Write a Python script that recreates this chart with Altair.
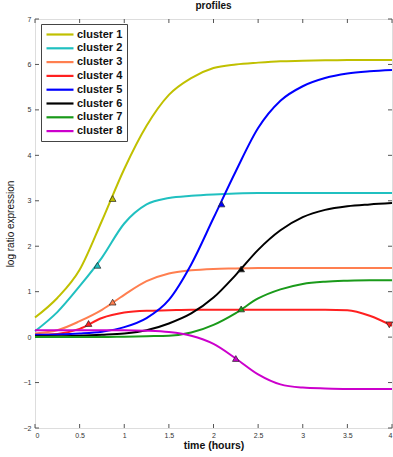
import altair as alt
import pandas as pd

times = [0, 0.25, 0.5, 0.75, 1.0, 1.25, 1.5, 1.75, 2.0, 2.25, 2.5, 2.75, 3.0, 3.25, 3.5, 3.75, 4.0]
names = ["cluster 1", "cluster 2", "cluster 3", "cluster 4",
         "cluster 5", "cluster 6", "cluster 7", "cluster 8"]
c1 = [0.43, 0.86, 1.48, 2.56, 3.7, 4.65, 5.33, 5.7, 5.92, 6.0, 6.04, 6.07, 6.08, 6.09, 6.1, 6.1, 6.1]
c2 = [0.13, 0.55, 1.12, 1.75, 2.5, 2.92, 3.06, 3.11, 3.14, 3.16, 3.17, 3.17, 3.17, 3.17, 3.17, 3.17, 3.17]
c3 = [0.08, 0.15, 0.35, 0.6, 0.93, 1.23, 1.4, 1.47, 1.5, 1.51, 1.52, 1.52, 1.52, 1.52, 1.52, 1.52, 1.52]
c4 = [0.05, 0.07, 0.18, 0.42, 0.54, 0.58, 0.59, 0.6, 0.6, 0.6, 0.6, 0.6, 0.6, 0.6, 0.59, 0.47, 0.25]
c5 = [0.05, 0.06, 0.08, 0.12, 0.22, 0.42, 0.82, 1.6, 2.62, 3.65, 4.6, 5.2, 5.52, 5.7, 5.8, 5.85, 5.88]
c6 = [0.02, 0.02, 0.03, 0.05, 0.08, 0.15, 0.3, 0.52, 0.87, 1.37, 1.92, 2.35, 2.64, 2.8, 2.88, 2.92, 2.95]
c7 = [0.0, 0.0, 0.0, 0.0, 0.01, 0.02, 0.03, 0.1, 0.27, 0.53, 0.85, 1.05, 1.17, 1.22, 1.24, 1.25, 1.25]
c8 = [0.15, 0.15, 0.15, 0.15, 0.15, 0.14, 0.11, 0.03, -0.15, -0.47, -0.82, -1.04, -1.11, -1.13, -1.14, -1.14, -1.14]
series = [c1, c2, c3, c4, c5, c6, c7, c8]
colors = ["#c0c000", "#20c0c0", "#ff7f50", "#ff2020", "#0000ff", "#000000", "#1a9a1a", "#cc00cc"]

marker_cluster = ["cluster 1", "cluster 2", "cluster 3", "cluster 4", "cluster 4",
                  "cluster 5", "cluster 6", "cluster 7", "cluster 8"]
marker_t = [0.87, 0.7, 0.87, 0.6, 3.97, 2.09, 2.31, 2.31, 2.25]
marker_v = [3.05, 1.58, 0.77, 0.3, 0.27, 2.93, 1.5, 0.62, -0.47]
marker_shape = ["triangle-up", "triangle-up", "triangle-up", "triangle-up", "triangle-down",
                "triangle-up", "triangle-up", "triangle-up", "triangle-up"]

xticks = [0, 0.5, 1, 1.5, 2, 2.5, 3, 3.5, 4]
yticks = [-2, -1, 0, 1, 2, 3, 4, 5, 6, 7]

W, H = 357, 409
FONT = "Liberation Sans"

rows = []
for name, vals in zip(names, series):
    for t, v in zip(times, vals):
        rows.append({"t": t, "v": v, "cluster": name})
df = pd.DataFrame(rows)

mk = pd.DataFrame({"t": marker_t, "v": marker_v, "cluster": marker_cluster, "shape": marker_shape})

xscale = alt.Scale(domain=[0, 4], nice=False, zero=False)
yscale = alt.Scale(domain=[-2, 7], nice=False, zero=False)
cscale = alt.Scale(domain=names, range=colors)

xaxis = alt.Axis(values=xticks, format="~g", title="time (hours)", grid=False, domain=False,
                 ticks=False, tickSize=0, labelFontSize=7, labelPadding=3, labelColor="#333",
                 labelFont=FONT, titleFont=FONT, titleFontSize=10.5, titleFontWeight="bold",
                 titleColor="#111", titleY=17, titleBaseline="middle")
yaxis = alt.Axis(values=yticks, format="~g", title="log ratio expression", grid=False, domain=False,
                 ticks=False, tickSize=0, labelFontSize=7, labelPadding=4, labelColor="#333",
                 labelFont=FONT, titleFont=FONT, titleFontSize=10, titleFontWeight="normal",
                 titleColor="#111", titleX=-25, titleBaseline="middle")

lines = alt.Chart(df).mark_line(strokeWidth=2, interpolate="monotone").encode(
    x=alt.X("t:Q", scale=xscale, axis=xaxis),
    y=alt.Y("v:Q", scale=yscale, axis=yaxis),
    color=alt.Color("cluster:N", scale=cscale, sort=names, legend=alt.Legend(
        title=None, orient="none", legendX=6, legendY=5,
        symbolType="M-1,0H4.4", symbolSize=100, symbolStrokeWidth=2.2,
        labelFontSize=11, labelFontWeight="bold", labelFont=FONT, labelColor="#111",
        labelOffset=19, padding=4, rowPadding=1.8,
        strokeColor="#444", fillColor="white")),
)

markers = alt.Chart(mk).mark_point(filled=True, size=45, stroke="#222", strokeWidth=0.7, opacity=1).encode(
    x=alt.X("t:Q", scale=xscale),
    y=alt.Y("v:Q", scale=yscale),
    fill=alt.Fill("cluster:N", scale=cscale, legend=None),
    shape=alt.Shape("shape:N", scale=None),
)

ydf = pd.DataFrame({"v": yticks})
xdf = pd.DataFrame({"t": xticks})
tick_color = "#555"
left_ticks = alt.Chart(ydf).mark_rule(color=tick_color, strokeWidth=1).encode(
    y=alt.Y("v:Q", scale=yscale), x=alt.value(0), x2=alt.value(4))
right_ticks = alt.Chart(ydf).mark_rule(color=tick_color, strokeWidth=1).encode(
    y=alt.Y("v:Q", scale=yscale), x=alt.value(W - 4), x2=alt.value(W))
bottom_ticks = alt.Chart(xdf).mark_rule(color=tick_color, strokeWidth=1).encode(
    x=alt.X("t:Q", scale=xscale), y=alt.value(H - 4), y2=alt.value(H))
top_ticks = alt.Chart(xdf).mark_rule(color=tick_color, strokeWidth=1).encode(
    x=alt.X("t:Q", scale=xscale), y=alt.value(0), y2=alt.value(4))

chart = alt.layer(left_ticks, right_ticks, bottom_ticks, top_ticks, lines, markers).properties(
    width=W, height=H,
    title=alt.TitleParams("profiles", fontSize=10, fontWeight="bold", font=FONT,
                          anchor="middle", offset=4, color="#111"),
    autosize=alt.AutoSizeParams(type="none"),
    padding={"left": 35, "top": 19, "right": 1, "bottom": 29},
).configure_view(stroke="#555", strokeWidth=1).configure(background="white")

chart.save("out.html", embed_options={"renderer": "svg", "actions": False})
